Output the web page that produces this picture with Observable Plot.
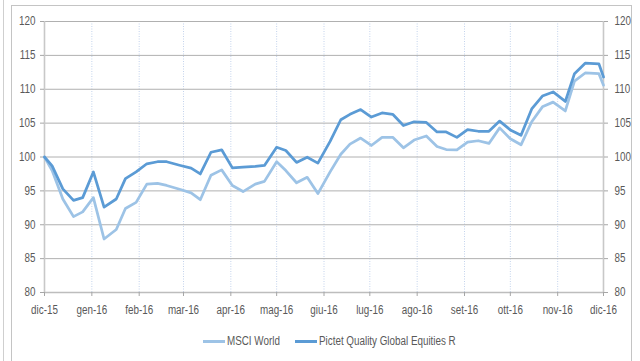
<!DOCTYPE html>
<html>
<head>
<meta charset="utf-8">
<script src="https://cdn.jsdelivr.net/npm/d3@7"></script>
<script src="https://cdn.jsdelivr.net/npm/@observablehq/plot@0.6"></script>
<style>
  html, body { margin: 0; padding: 0; background: #fff; }
  #wrap { position: relative; width: 640px; height: 361px; overflow: hidden; background: #fff;
          font-family: "Liberation Sans", Arial, sans-serif; }
  #outer { position: absolute; left: 3px; top: 0; height: 361px; border-left: 1px solid #cfcfcf; }
  #frame { position: absolute; left: 11px; top: 5px; width: 619px; height: 400px; border: 1px solid #c4c4c4; }
  #chart { position: absolute; left: 0; top: 0; }
  .item { position: absolute; top: 333px; height: 16px; display: flex; align-items: center;
          font-size: 12px; color: #595959; white-space: nowrap; }
  .sw { width: 22px; height: 3px; margin-right: 2px; flex: none; }
  .lab { display: inline-block; transform: scaleX(0.82); transform-origin: 0 50%; }
</style>
</head>
<body>
<div id="wrap">
  <div id="outer"></div>
  <div id="frame"></div>
  <div id="chart"></div>
</div>
<script>
const dates = [
  "2015-12-01","2015-12-06","2015-12-13","2015-12-20","2015-12-26","2016-01-02","2016-01-09","2016-01-17",
  "2016-01-23","2016-01-30","2016-02-06","2016-02-13","2016-02-19","2016-02-28","2016-03-06","2016-03-12",
  "2016-03-19","2016-03-26","2016-04-02","2016-04-09","2016-04-17","2016-04-23","2016-05-01","2016-05-07",
  "2016-05-14","2016-05-21","2016-05-28","2016-06-05","2016-06-12","2016-06-18","2016-06-25","2016-07-02",
  "2016-07-09","2016-07-16","2016-07-23","2016-07-30","2016-08-07","2016-08-14","2016-08-20","2016-08-27",
  "2016-09-03","2016-09-10","2016-09-17","2016-09-24","2016-10-01","2016-10-08","2016-10-15","2016-10-22",
  "2016-10-29","2016-11-06","2016-11-12","2016-11-19","2016-11-28","2016-12-01"
];
const msciWorld = [
  100.0, 98.0, 93.8, 91.2, 91.9, 94.0, 87.9, 89.3,
  92.4, 93.3, 96.0, 96.1, 95.8, 95.2, 94.7, 93.7,
  97.3, 98.1, 95.8, 94.9, 96.0, 96.4, 99.3, 98.0,
  96.2, 97.0, 94.6, 97.8, 100.4, 101.9, 102.8, 101.7,
  102.9, 102.9, 101.35, 102.5, 103.1, 101.55, 101.1, 101.05,
  102.2, 102.4, 102.0, 104.3, 102.7, 101.8, 105.2, 107.4,
  108.1, 106.8, 111.2, 112.4, 112.3, 110.6
];
const pictetQuality = [
  100.0, 98.7, 95.3, 93.6, 94.0, 97.8, 92.6, 93.8,
  96.8, 97.8, 99.0, 99.3, 99.3, 98.75, 98.35, 97.5,
  100.7, 101.06, 98.4, 98.5, 98.6, 98.75, 101.45, 100.96,
  99.2, 99.97, 99.1, 102.3, 105.5, 106.3, 107.0, 105.9,
  106.5, 106.3, 104.65, 105.2, 105.1, 103.7, 103.7, 102.9,
  104.05, 103.8, 103.8, 105.3, 104.0, 103.2, 107.1, 109.0,
  109.6, 108.2, 112.3, 113.85, 113.75, 111.8
];
const monthLabels = ["dic-15","gen-16","feb-16","mar-16","apr-16","mag-16","giu-16","lug-16","ago-16","set-16","ott-16","nov-16","dic-16"];
const yTicks = [80, 85, 90, 95, 100, 105, 110, 115, 120];
const seriesNames = ["MSCI World", "Pictet Quality Global Equities R"];
const seriesColors = ["#9dc3e6", "#5b9bd5"];

const data = dates.flatMap((d, i) => [
  {date: new Date(d), series: seriesNames[0], value: msciWorld[i]},
  {date: new Date(d), series: seriesNames[1], value: pictetQuality[i]}
]);
const monthTicks = monthLabels.map((_, i) => d3.utcMonth.offset(new Date("2015-12-01"), i));
const labelOf = new Map(monthTicks.map((t, i) => [+t, monthLabels[i]]));

const chart = Plot.plot({
  width: 640, height: 325,
  marginLeft: 44, marginRight: 37, marginTop: 21, marginBottom: 33,
  style: {fontFamily: '"Liberation Sans", Arial, sans-serif', fontSize: "12px", color: "#595959", background: "transparent", overflow: "visible"},
  x: {type: "utc", domain: [monthTicks[0], monthTicks[monthTicks.length - 1]]},
  y: {domain: [80, 120]},
  color: {domain: seriesNames, range: seriesColors},
  marks: [
    Plot.gridX(monthTicks, {stroke: "#c3d3ec", strokeOpacity: 1, strokeDasharray: "1,1.5"}),
    Plot.gridY(yTicks, {stroke: "#b0b0b0", strokeOpacity: 1}),
    Plot.ruleY([80], {stroke: "#bdbdbd", strokeWidth: 1.6}),
    Plot.ruleX([monthTicks[0], monthTicks[monthTicks.length - 1]], {stroke: "#c8c8c8", strokeWidth: 1.6}),
    Plot.axisY(yTicks, {anchor: "left", tickSize: 4, tickPadding: 5, stroke: "#a6a6a6", fill: "#595959", label: null}),
    Plot.axisY(yTicks, {anchor: "right", tickSize: 4, tickPadding: 7, stroke: "#a6a6a6", fill: "#595959", label: null}),
    Plot.axisX(monthTicks, {tickSize: 4, tickPadding: 9, stroke: "#a6a6a6", fill: "#595959", tickFormat: d => labelOf.get(+d), label: null}),
    Plot.line(data, {x: "date", y: "value", z: "series", stroke: "series", strokeWidth: 2.75, strokeLinejoin: "round", strokeLinecap: "round"})
  ]
});
document.getElementById("chart").appendChild(chart);

// narrow the tick labels (Arial Narrow proportions)
chart.querySelectorAll('g[aria-label$="tick label"] text').forEach(t => {
  const w = t.getComputedTextLength();
  t.setAttribute("textLength", (w * 0.82).toFixed(2));
  t.setAttribute("lengthAdjust", "spacingAndGlyphs");
});

const wrap = document.getElementById("wrap");
const legendLeft = [203, 295];
seriesNames.forEach((name, i) => {
  const item = document.createElement("div");
  item.className = "item";
  item.style.left = legendLeft[i] + "px";
  const sw = document.createElement("div");
  sw.className = "sw";
  sw.style.background = seriesColors[i];
  const label = document.createElement("span");
  label.className = "lab";
  label.textContent = name;
  item.appendChild(sw);
  item.appendChild(label);
  wrap.appendChild(item);
});
</script>
</body>
</html>
